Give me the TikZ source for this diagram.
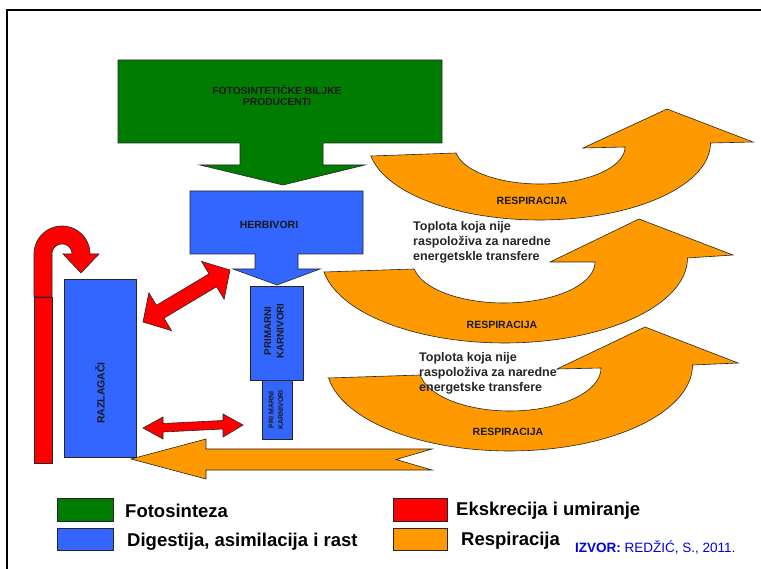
\documentclass[tikz,border=0pt]{standalone}
\usepackage{fontspec}
\setmainfont{Liberation Sans}
\definecolor{cgreen}{RGB}{0,125,0}
\definecolor{cblue}{RGB}{51,102,255}
\definecolor{cred}{RGB}{255,0,0}
\definecolor{corange}{RGB}{255,153,0}
\definecolor{csrc}{RGB}{0,0,230}
\begin{document}
\begin{tikzpicture}[x=1pt,y=-1pt,
  shp/.style={draw=black!85, line width=0.6pt, line join=miter},
  grn/.style={shp, fill=cgreen},
  blu/.style={shp, fill=cblue},
  rd/.style={shp, fill=cred},
  orn/.style={shp, fill=corange},
  lbl/.style={font=\bfseries\fontsize{10.5}{12}\selectfont, inner sep=0pt, text=black!90},
  heat/.style={font=\bfseries\fontsize{12.5}{15}\selectfont, inner sep=0pt, anchor=base west, text=black!85},
  leg/.style={font=\bfseries\fontsize{18.5}{22}\selectfont, inner sep=0pt, anchor=base west, text=black}
]
\useasboundingbox (0,0) rectangle (761,569);
\fill[white] (0,0) rectangle (761,569);
\draw[line width=2.5pt, black] (7,569) -- (7,10) -- (761,10);

% respiration curved arrows
\draw[orn] (371,156) -- (456,153)
  -- plot[domain=170.7:0, samples=60] ({540+85*cos(\x)},{147+37*sin(\x)})
  -- (583,148) -- (667,109) -- (753,142) -- (710.5,143)
  -- plot[domain=0:170.3, samples=80] ({539.5+171*cos(\x)},{143+77*sin(\x)}) -- cycle;
\draw[orn] (324,272) -- (414,269)
  -- plot[domain=170:0, samples=60] ({504+91*cos(\x)},{262+41*sin(\x)})
  -- (550,262) -- (639,219) -- (733,255) -- (687.5,258)
  -- plot[domain=0:170.5, samples=80] ({504.5+183*cos(\x)},{258+85*sin(\x)}) -- cycle;
\draw[orn] (328.6,378) -- (420,375)
  -- plot[domain=170.6:0, samples=60] ({510+91*cos(\x)},{368+43*sin(\x)})
  -- (557,369) -- (645,327) -- (738,363) -- (692.5,365)
  -- plot[domain=0:171.3, samples=80] ({509.5+183*cos(\x)},{365+86*sin(\x)}) -- cycle;
% bottom respiration arrow
\draw[orn] (131,459) -- (206,479) -- (206,470) -- (432,470) -- (396,459.5)
  -- (432,449) -- (206,449) -- (206,439) -- cycle;

% producers
\draw[grn] (118,60) -- (442,60) -- (442,143) -- (323,143) -- (323,165) -- (365,165)
  -- (283,185) -- (200,165) -- (240,165) -- (240,143) -- (118,143) -- cycle;
\node[lbl, align=center, font=\bfseries\fontsize{10.3}{11.5}\selectfont] (prod) at (277,95.5) {FOTOSINTETIČKE BILJKE\\PRODUCENTI};

% herbivores
\draw[blu] (190,191) -- (363,191) -- (363,254) -- (298,254) -- (298,269) -- (320,269)
  -- (277,285) -- (233,269) -- (255,269) -- (255,254) -- (190,254) -- cycle;
\node[lbl] (herb) at (269,225) {HERBIVORI};

% carnivores
\draw[blu] (250,286) rectangle (303,380);
\node[lbl, rotate=90, align=center, font=\bfseries\fontsize{9.8}{12.5}\selectfont] (pk1) at (274,331) {PRIMARNI\\KARNIVORI};
\draw[blu] (262,380) rectangle (292,439);
\node[lbl, rotate=90, align=center, font=\bfseries\fontsize{7}{9.5}\selectfont] (pk2) at (276,410) {PRI MARNI\\KARNIVORI};

% decomposers
\draw[blu] (64,279) rectangle (136,457);
\node[lbl] [rotate=90] (razl) at (100,393) {RAZLAGAČI};

% excretion: bar and U-turn arrow
\draw[rd] (34,297) rectangle (52,463);
\draw[rd] (34,297) -- (34,254)
  -- plot[domain=180:360, samples=50] ({62+28*cos(\x)},{254+28*sin(\x)})
  -- (99,254) -- (81,273) -- (63,254) -- (72,254)
  -- plot[domain=360:180, samples=40] ({62+10*cos(\x)},{254+10*sin(\x)})
  -- (52,297) -- cycle;

% double arrows
\draw[rd] (143,322) -- (171.5,330.6) -- (164.0,318.1) -- (216.6,286.7) -- (224.1,299.2)
  -- (230,270) -- (201.5,261.4) -- (209.0,273.9) -- (156.4,305.3) -- (148.9,292.8) -- cycle;
\draw[rd] (143,428) -- (163,439) -- (163,432) -- (223,429) -- (223,437) -- (243,425)
  -- (223,414) -- (223,420.5) -- (163,423.5) -- (163,417) -- cycle;

% labels on respiration arrows
\node[lbl] (r1) at (532,201) {RESPIRACIJA};
\node[lbl] (r2) at (502,325) {RESPIRACIJA};
\node[lbl] (r3) at (508,432) {RESPIRACIJA};

\node[heat] (h1a) at (413,231) {Toplota koja nije};
\node[heat] (h1b) at (413,246) {raspoloživa za naredne};
\node[heat] (h1c) at (413,261) {energetskle transfere};
\node[heat] (h2a) at (419,361.5) {Toplota koja nije};
\node[heat] (h2b) at (419,376.5) {raspoloživa za naredne};
\node[heat] (h2c) at (419,391.5) {energetske transfere};

% legend
\draw[grn] (57,498) rectangle (113,521);
\draw[blu] (57,528) rectangle (113,550);
\draw[rd] (393,498) rectangle (447,521);
\draw[orn] (393,528) rectangle (447,550);
\node[leg] (l1) at (125,517) {Fotosinteza};
\node[leg] (l2) at (127,546) {Digestija, asimilacija i rast};
\node[leg] (l3) at (456,515) {Ekskrecija i umiranje};
\node[leg] (l4) at (461,545) {Respiracija};
\node[inner sep=0pt, anchor=base west, font=\fontsize{13.5}{16}\selectfont, text=csrc] (src) at (575,552.5) {\textbf{IZVOR:} REDŽIĆ, S., 2011.};
\end{tikzpicture}
\end{document}
